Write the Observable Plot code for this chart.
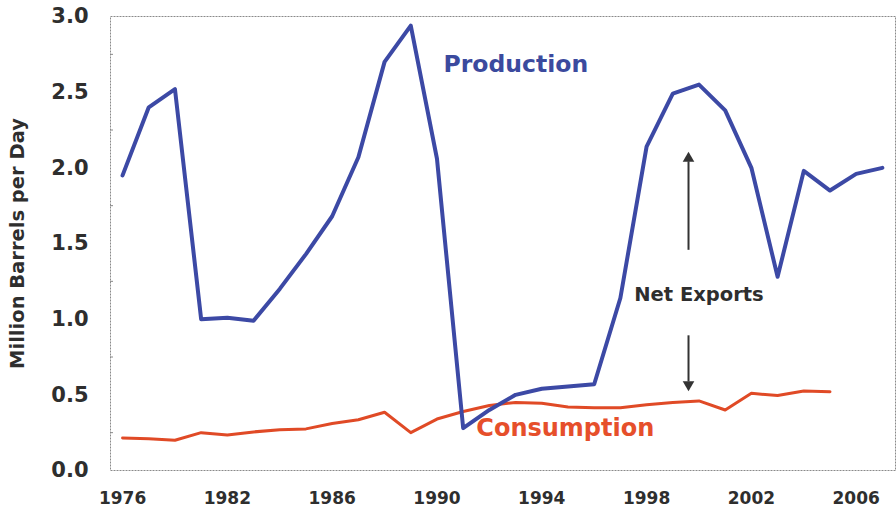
<!DOCTYPE html>
<html>
<head>
<meta charset="utf-8">
<script src="https://cdn.jsdelivr.net/npm/d3@7"></script>
<script src="https://cdn.jsdelivr.net/npm/@observablehq/plot@0.6"></script>
<style>
  html, body { margin: 0; padding: 0; background: #fff; }
  #chart svg { display: block; }
</style>
</head>
<body>
<div id="chart"></div>
<script>
// Production (million barrels per day), one value per year
const prodYears = [1978, 1979, 1980, 1981, 1982, 1983, 1984, 1985, 1986, 1987,
                   1988, 1989, 1990, 1991, 1992, 1993, 1994, 1995, 1996, 1997,
                   1998, 1999, 2000, 2001, 2002, 2003, 2004, 2005, 2006, 2007];
const production = [1.95, 2.40, 2.52, 1.00, 1.01, 0.99, 1.20, 1.43, 1.68, 2.07,
                    2.70, 2.94, 2.06, 0.28, 0.40, 0.50, 0.54, 0.555, 0.57, 1.14,
                    2.14, 2.49, 2.55, 2.38, 2.00, 1.28, 1.98, 1.85, 1.96, 2.00];

// Consumption (million barrels per day)
const consYears = [1978, 1979, 1980, 1981, 1982, 1983, 1984, 1985, 1986, 1987,
                   1988, 1989, 1990, 1991, 1992, 1993, 1994, 1995, 1996, 1997,
                   1998, 1999, 2000, 2001, 2002, 2003, 2004, 2005];
const consumption = [0.215, 0.21, 0.20, 0.25, 0.235, 0.255, 0.27, 0.275, 0.31, 0.335,
                     0.385, 0.25, 0.34, 0.39, 0.43, 0.45, 0.445, 0.42, 0.415, 0.415,
                     0.435, 0.45, 0.46, 0.40, 0.51, 0.495, 0.525, 0.52];

// Axis ticks and labels (as printed on the original chart)
const xTickValues = [1978, 1982, 1986, 1990, 1994, 1998, 2002, 2006];
const xTickLabels = ["1976", "1982", "1986", "1990", "1994", "1998", "2002", "2006"];
const yTicks = [0, 0.5, 1.0, 1.5, 2.0, 2.5, 3.0];
const yMinorTicks = [0.25, 0.75, 1.25, 1.75, 2.25, 2.75];

// Annotations
const seriesLabels = [
  {text: "Production", x: 1990.25, y: 2.68, color: "#3b4a9e", size: 23.5},
  {text: "Consumption", x: 1991.5, y: 0.28, color: "#e64f2b", size: 24}
];
const noteLabel = [{text: "Net Exports", x: 2000.0, y: 1.16}];
const arrowX = 1999.6;
const arrowUp = [{y1: 1.455, y2: 2.04}];
const arrowDown = [{y1: 0.89, y2: 0.585}];
const arrowHeadsUp = [{y: 2.062}];
const arrowHeadsDown = [{y: 0.568}];

const prodData = prodYears.map((yr, i) => ({year: yr, value: production[i]}));
const consData = consYears.map((yr, i) => ({year: yr, value: consumption[i]}));

const chart = Plot.plot({
  width: 896,
  height: 515,
  marginLeft: 110,
  marginRight: 1,
  marginTop: 16,
  marginBottom: 45,
  style: {fontFamily: "'DejaVu Sans', sans-serif", fontWeight: "bold", background: "#fff", color: "#2e2e2e"},
  x: {domain: [1977.54, 2007.5]},
  y: {domain: [0, 3]},
  marks: [
    Plot.frame({stroke: "#8a8a8a", strokeDasharray: "2,1"}),
    Plot.axisY({ticks: yTicks, tickSize: 0, tickPadding: 22, fontSize: 21,
                tickFormat: d => d.toFixed(1), label: null}),
    Plot.axisY({ticks: yMinorTicks, tickSize: -3, text: null, label: null, stroke: "#888"}),
    Plot.axisX({ticks: xTickValues, tickSize: 0, tickPadding: 21, fontSize: 17,
                tickFormat: d => xTickLabels[xTickValues.indexOf(d)], label: null}),
    Plot.text(["Million Barrels per Day"], {frameAnchor: "left", rotate: -90, dx: -87,
                textAnchor: "middle", lineAnchor: "bottom", fontSize: 19.5, fill: "#2e2e2e"}),
    Plot.line(consData, {x: "year", y: "value", stroke: "#e04a26", strokeWidth: 3,
                         strokeLinejoin: "round"}),
    Plot.line(prodData, {x: "year", y: "value", stroke: "#3c49a5", strokeWidth: 4,
                         strokeLinejoin: "round"}),
    Plot.ruleX(arrowUp, {x: arrowX, y1: "y1", y2: "y2", stroke: "#333", strokeWidth: 2}),
    Plot.ruleX(arrowDown, {x: arrowX, y1: "y1", y2: "y2", stroke: "#333", strokeWidth: 2}),
    Plot.dot(arrowHeadsUp, {x: arrowX, y: "y", symbol: "triangle", r: 4.3, fill: "#333", stroke: null}),
    Plot.dot(arrowHeadsDown, {x: arrowX, y: "y", symbol: "triangle", r: 4.3, fill: "#333", stroke: null, rotate: 180}),
    Plot.text(seriesLabels.slice(0, 1), {x: "x", y: "y", text: "text", fill: "color",
                textAnchor: "start", fontSize: 23.5}),
    Plot.text(seriesLabels.slice(1), {x: "x", y: "y", text: "text", fill: "color",
                textAnchor: "start", fontSize: 24}),
    Plot.text(noteLabel, {x: "x", y: "y", text: "text", fill: "#2e2e2e", fontSize: 19.5})
  ]
});

document.getElementById("chart").appendChild(chart);
</script>
</body>
</html>
